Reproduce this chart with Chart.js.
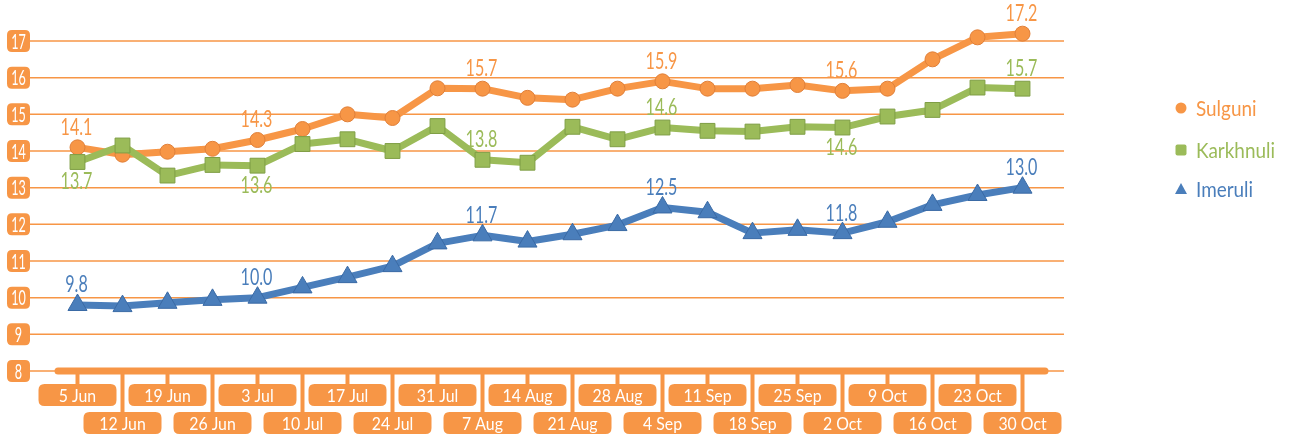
<!DOCTYPE html>
<html><head><meta charset="utf-8">
<script src="https://cdn.jsdelivr.net/npm/chart.js@4.4.0/dist/chart.umd.min.js"></script>
<style>html,body{margin:0;padding:0;background:#fff;}#wrap{width:1291px;height:438px;}</style>
</head><body><div id="wrap"><canvas id="c" width="1291" height="438"></canvas></div>
<script>
const categories = ['5 Jun','12 Jun','19 Jun','26 Jun','3 Jul','10 Jul','17 Jul','24 Jul','31 Jul','7 Aug','14 Aug','21 Aug','28 Aug','4 Sep','11 Sep','18 Sep','25 Sep','2 Oct','9 Oct','16 Oct','23 Oct','30 Oct'];
const sulguni   = [14.1, 13.9, 13.98, 14.06, 14.3, 14.6, 15.0, 14.9, 15.71, 15.7, 15.45, 15.4, 15.7, 15.9, 15.7, 15.7, 15.8, 15.64, 15.7, 16.5, 17.1, 17.2];
const karkhnuli = [13.7, 14.15, 13.33, 13.62, 13.6, 14.19, 14.32, 14.0, 14.68, 13.76, 13.68, 14.66, 14.32, 14.64, 14.55, 14.53, 14.66, 14.64, 14.94, 15.12, 15.73, 15.7];
const imeruli   = [9.8, 9.77, 9.86, 9.94, 10.0, 10.28, 10.56, 10.86, 11.48, 11.7, 11.53, 11.73, 11.98, 12.46, 12.33, 11.76, 11.85, 11.76, 12.07, 12.53, 12.8, 13.0];
const seriesNames = ['Sulguni','Karkhnuli','Imeruli'];
const yTicks = [8,9,10,11,12,13,14,15,16,17];
const labelIndexes = [0,4,9,13,17,21];
const karkhnuliBelow = [0,4,17];

const FONT = 'Lato, "Open Sans", sans-serif';
const ORANGE = '#F79646';
const GREEN = '#9BBB59';
const BLUE = '#4A7EBB';

function rr(ctx,x,y,w,h,r){ctx.beginPath();ctx.moveTo(x+r,y);ctx.lineTo(x+w-r,y);ctx.quadraticCurveTo(x+w,y,x+w,y+r);ctx.lineTo(x+w,y+h-r);ctx.quadraticCurveTo(x+w,y+h,x+w-r,y+h);ctx.lineTo(x+r,y+h);ctx.quadraticCurveTo(x,y+h,x,y+h-r);ctx.lineTo(x,y+r);ctx.quadraticCurveTo(x,y,x+r,y);ctx.closePath();}
function txt(ctx,s,x,y,size,sx,color,align){ctx.save();ctx.translate(x,y);ctx.scale(sx,1);ctx.font=size+'px '+FONT;ctx.fillStyle=color;ctx.textAlign=align||'center';ctx.textBaseline='middle';ctx.fillText(s,0,0);ctx.restore();}

const deco = {
  id:'deco',
  beforeDatasetsDraw(chart){
    const {ctx, chartArea:a, scales:{x,y}} = chart;
    ctx.save();
    yTicks.forEach(v=>{
      const py = y.getPixelForValue(v);
      ctx.strokeStyle = ORANGE; ctx.lineWidth = 1.5;
      ctx.beginPath(); ctx.moveTo(30,py); ctx.lineTo(a.right+19,py); ctx.stroke();
      ctx.fillStyle = ORANGE;
      rr(ctx,7,py-11,23,22,5); ctx.fill();
      txt(ctx,String(v),18.5,py+1,21,0.6,'#fff');
    });
    const axisY = y.getPixelForValue(8);
    categories.forEach((c,i)=>{
      const px = x.getPixelForValue(i);
      const top = i%2===0 ? axisY+13 : axisY+41;
      ctx.strokeStyle = ORANGE; ctx.lineWidth = 4;
      ctx.beginPath(); ctx.moveTo(px,axisY); ctx.lineTo(px,top+2); ctx.stroke();
      ctx.fillStyle = ORANGE;
      rr(ctx,px-39,top,78,22,6); ctx.fill();
      txt(ctx,c,px,top+12,18,0.88,'#fff');
    });
    ctx.strokeStyle = ORANGE; ctx.lineWidth = 7; ctx.lineCap='round';
    ctx.beginPath(); ctx.moveTo(a.left+3,axisY); ctx.lineTo(a.right,axisY); ctx.stroke();
    ctx.restore();
  },
  afterDatasetsDraw(chart){
    const {ctx} = chart;
    ctx.save();
    chart.data.datasets.forEach((ds,di)=>{
      const meta = chart.getDatasetMeta(di);
      labelIndexes.forEach(i=>{
        const pt = meta.data[i];
        const below = di===1 && karkhnuliBelow.includes(i);
        txt(ctx,ds.data[i].toFixed(1),pt.x-1,below ? pt.y+20 : pt.y-20,23,0.7,ds.labelColor);
      });
    });
    const ly = [108,150,189];
    chart.data.datasets.forEach((ds,di)=>{
      const cx = 1181, cy = ly[di];
      ctx.fillStyle = ds.backgroundColor;
      ctx.beginPath();
      if(di===0){ctx.arc(cx,cy,5.5,0,Math.PI*2);}
      else if(di===1){rr(ctx,cx-5.5,cy-5.5,11,11,2);}
      else {ctx.moveTo(cx,cy-6);ctx.lineTo(cx+6,cy+5);ctx.lineTo(cx-6,cy+5);ctx.closePath();}
      ctx.fill();
      txt(ctx,ds.label,1196,cy+1,21,0.9,ds.labelColor,'left');
    });
    ctx.restore();
  }
};

new Chart(document.getElementById('c'),{
  type:'line',
  data:{
    labels:categories,
    datasets:[
      {label:seriesNames[0],data:sulguni,borderColor:ORANGE,backgroundColor:ORANGE,labelColor:ORANGE,pointBorderColor:'#E0803A',pointBorderWidth:1,pointStyle:'circle',pointRadius:7.5,borderWidth:7,order:3},
      {label:seriesNames[1],data:karkhnuli,borderColor:GREEN,backgroundColor:GREEN,labelColor:GREEN,pointBorderColor:'#7F9E45',pointBorderWidth:1,pointStyle:'rect',pointRadius:10.5,borderWidth:7,order:2},
      {label:seriesNames[2],data:imeruli,borderColor:BLUE,backgroundColor:BLUE,labelColor:BLUE,pointBorderColor:'#3A6AA5',pointBorderWidth:1,pointStyle:'triangle',pointRadius:11,borderWidth:7,order:1}
    ]
  },
  options:{
    responsive:false,animation:false,
    layout:{padding:{left:55,right:246,top:41,bottom:67}},
    elements:{line:{tension:0,borderJoinStyle:'round',borderCapStyle:'round'}},
    datasets:{line:{clip:false}},
    scales:{
      x:{display:false,offset:true},
      y:{display:false,min:8,max:17}
    },
    plugins:{legend:{display:false},tooltip:{enabled:false}}
  },
  plugins:[deco]
});
</script></body></html>
